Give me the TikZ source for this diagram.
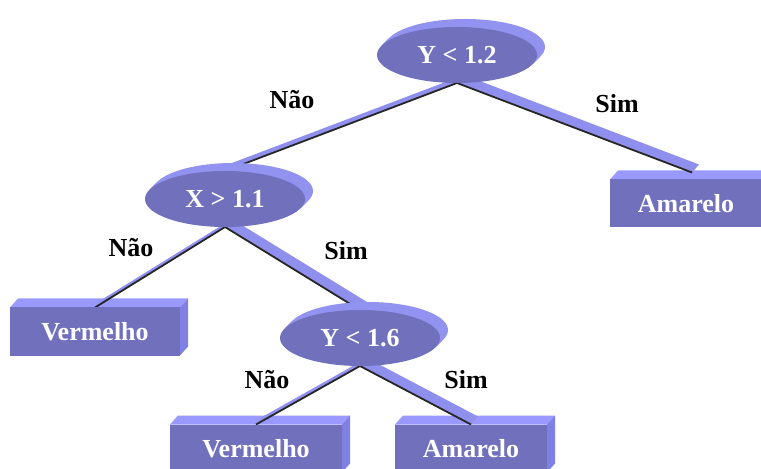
\documentclass[tikz,border=0pt]{standalone}
\usepackage{fontspec}
\setmainfont{Liberation Serif}
\usetikzlibrary{calc,shapes.geometric}
\definecolor{frontcol}{RGB}{112,112,188}
\definecolor{topcol}{RGB}{153,153,255}
\definecolor{sidecol}{RGB}{128,128,228}
\definecolor{extcol}{RGB}{146,146,240}
\definecolor{bandcol}{RGB}{143,143,238}
\pgfdeclarelayer{faces}
\pgfdeclarelayer{conns}
\pgfdeclarelayer{ext}
\pgfsetlayers{faces,conns,ext,main}
\begin{document}
\begin{tikzpicture}[x=1bp,y=-1bp,
  txt/.style={font=\fontsize{26bp}{30bp}\selectfont\bfseries},
  ell/.style={txt,ellipse,fill=frontcol,text=white,minimum width=160bp,minimum height=56bp,inner sep=0pt,outer sep=0pt},
  boxnode/.style={txt,rectangle,fill=frontcol,text=white,minimum height=48bp,inner sep=0pt,outer sep=0pt},
  lbl/.style={txt,text=black,inner sep=0pt},
  band/.style={fill=bandcol},
  conn/.style={draw=black!85,line width=1.8bp}]
\useasboundingbox (0,0) rectangle (761,469);
% decision nodes
\node[ell] (r) at (457,55) {Y < 1.2};
\node[ell] (x) at (225,199) {X > 1.1};
\node[ell] (y) at (360,338) {Y < 1.6};
% leaves
\node[boxnode,minimum width=152bp] (a1) at (686,203.5) {Amarelo};
\node[boxnode,minimum width=170bp] (v1) at (95,331.5) {Vermelho};
\node[boxnode,minimum width=172bp] (v2) at (256,448.5) {Vermelho};
\node[boxnode,minimum width=152bp] (a2) at (471,448.5) {Amarelo};
\coordinate (a1t) at ($(a1.north)+(6,-7)$);
% labels
\node[lbl] (l1) at (292,100) {Não};
\node[lbl] (l2) at (617,104) {Sim};
\node[lbl] (l3) at (131,248) {Não};
\node[lbl] (l4) at (346,251) {Sim};
\node[lbl] (l5) at (267,380) {Não};
\node[lbl] (l6) at (466,380) {Sim};
% box extrusions
\begin{pgfonlayer}{faces}
\foreach \n in {a1,v1,v2,a2}{
  \fill[topcol] (\n.north west) -- ($(\n.north west)+(8,-9)$) -- ($(\n.north east)+(8,-9)$) -- (\n.north east) -- cycle;
  \fill[sidecol] (\n.north east) -- ($(\n.north east)+(8,-9)$) -- ($(\n.south east)+(8,-9)$) -- (\n.south east) -- cycle;
}
\end{pgfonlayer}
% connectors
\begin{pgfonlayer}{conns}
\foreach \a/\b in {r.south/x.north, r.south/a1t, x.south/v1.north, x.south/y.north, y.south/v2.north, y.south/a2.north}{
  \fill[band] (\a) -- (\b) -- ($(\b)+(7,-8)$) -- ($(\a)+(7,-8)$) -- cycle;
  \draw[conn] (\a) -- (\b);
}
\end{pgfonlayer}
% ellipse extrusions
\begin{pgfonlayer}{ext}
\foreach \n in {r,x,y}{
  \foreach \i in {1,...,8}{
    \fill[extcol] ($(\n.center)+(\i,-\i)$) ellipse [x radius=80bp, y radius=28bp];
  }
}
\end{pgfonlayer}
\end{tikzpicture}
\end{document}
